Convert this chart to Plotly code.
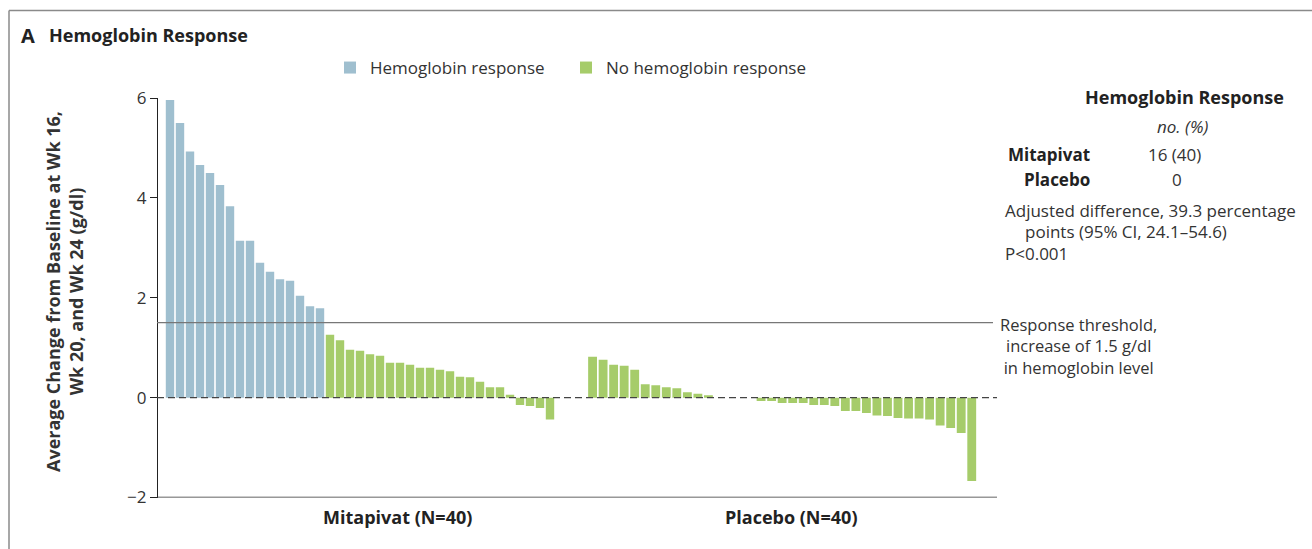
import plotly.graph_objects as go

W, H = 1312, 549

# ---- data ----
mitapivat_change = [5.96, 5.50, 4.93, 4.66, 4.50, 4.26, 3.83, 3.14, 3.14, 2.70,
                    2.52, 2.37, 2.34, 2.04, 1.83, 1.79,
                    1.26, 1.15, 0.96, 0.94, 0.87, 0.84, 0.70, 0.70, 0.66, 0.60,
                    0.60, 0.56, 0.53, 0.42, 0.41, 0.32, 0.21, 0.21, 0.06,
                    -0.15, -0.17, -0.21, -0.44]
placebo_change = [0.82, 0.76, 0.66, 0.64, 0.56, 0.27, 0.25, 0.21, 0.19, 0.11,
                  0.08, 0.05, 0.0, 0.0, 0.0, 0.0,
                  -0.07, -0.07, -0.11, -0.11, -0.11, -0.15, -0.15, -0.17, -0.27,
                  -0.27, -0.31, -0.36, -0.37, -0.41, -0.42, -0.42, -0.44, -0.56,
                  -0.61, -0.71, -1.67]
threshold = 1.5
y_ticks = [-2, 0, 2, 4, 6]
y_tick_labels = ["\u22122", "0", "2", "4", "6"]
group_labels = ["<b>Mitapivat (N=40)</b>", "<b>Placebo (N=40)</b>"]
legend_names = ["Hemoglobin response", "No hemoglobin response"]

BLUE = "#9fbfcf"
GREEN = "#a6cc6a"
FONT = "Open Sans"
REG = 17
BOLD = 18


def px(x):
    return x / W


def py(y):
    return 1 - y / H


mit_idx = list(range(len(mitapivat_change)))
pla_idx = list(range(len(placebo_change)))
resp_x = [i for i in mit_idx if mitapivat_change[i] >= threshold]
resp_y = [mitapivat_change[i] for i in resp_x]
nonresp_x = [i for i in mit_idx if mitapivat_change[i] < threshold]
nonresp_y = [mitapivat_change[i] for i in nonresp_x]

fig = go.Figure()
fig.add_trace(go.Bar(x=resp_x, y=resp_y, name=legend_names[0], marker_color=BLUE,
                     marker_line_width=0, xaxis="x", yaxis="y", legend="legend"))
fig.add_trace(go.Bar(x=nonresp_x, y=nonresp_y, name=legend_names[1], marker_color=GREEN,
                     marker_line_width=0, xaxis="x", yaxis="y", legend="legend2"))
fig.add_trace(go.Bar(x=pla_idx, y=placebo_change, name=legend_names[1], marker_color=GREEN,
                     marker_line_width=0, xaxis="x2", yaxis="y", showlegend=False))

y_dom = [py(497.5), py(98)]

legend_common = dict(orientation="h", y=py(68), xanchor="left", yanchor="middle",
                     font=dict(size=REG, color="#333"), itemwidth=30,
                     bgcolor="rgba(0,0,0,0)")

fig.update_layout(
    width=W, height=H,
    margin=dict(l=0, r=0, t=0, b=0, pad=0, autoexpand=False),
    paper_bgcolor="white", plot_bgcolor="white",
    font=dict(family=FONT, size=REG, color="#333"),
    bargap=0.16,
    barmode="overlay",
    showlegend=True,
    legend=dict(x=px(330), **legend_common),
    legend2=dict(x=px(566), **legend_common),
    xaxis=dict(domain=[px(165), px(555)], range=[-0.5, len(mitapivat_change) - 0.5],
               showticklabels=False, showgrid=False, zeroline=False, showline=False,
               ticks="", anchor="y"),
    xaxis2=dict(domain=[px(587.3), px(977)], range=[-0.5, len(placebo_change) - 0.5],
                showticklabels=False, showgrid=False, zeroline=False, showline=False,
                ticks="", anchor="y"),
    yaxis=dict(domain=y_dom, range=[-2, 6], tickvals=y_ticks, ticktext=y_tick_labels,
               anchor="free", position=px(157), showline=True, linecolor="#222",
               linewidth=1.3, ticks="outside", ticklen=7, tickcolor="#222", tickwidth=1.3,
               showgrid=False, zeroline=False, automargin=False,
               tickfont=dict(size=REG, color="#333")),
)

# reference lines
fig.add_shape(type="line", xref="paper", yref="y", x0=px(157), x1=px(997), y0=-2, y1=-2,
              line=dict(color="#333", width=1.3))
fig.add_shape(type="line", xref="paper", yref="y", x0=px(157), x1=px(993), y0=threshold,
              y1=threshold, line=dict(color="#777", width=1.2), layer="above")
fig.add_shape(type="line", xref="paper", yref="y", x0=px(157), x1=px(997), y0=0, y1=0,
              line=dict(color="#444", width=1.4, dash="7px,4px"), layer="above")

# frame
fig.add_shape(type="line", xref="paper", yref="paper", x0=px(9), x1=1, y0=py(10.5), y1=py(10.5),
              line=dict(color="#8a8a8a", width=1.5))
fig.add_shape(type="line", xref="paper", yref="paper", x0=px(9), x1=px(9), y0=0, y1=py(10.5),
              line=dict(color="#8a8a8a", width=1.5))


def ann(text, x, y, xanchor="center", size=REG, **kw):
    fig.add_annotation(text=text, x=px(x), y=py(y), xref="paper", yref="paper",
                       xanchor=xanchor, yanchor="middle", showarrow=False,
                       font=dict(family=FONT, size=size, color=kw.pop("color", "#333")), **kw)


# title
ann("<b>A</b>", 19, 35, xanchor="left", size=20, color="#222")
ann("<b>Hemoglobin Response</b>", 47, 35, xanchor="left", size=BOLD, color="#222")

# y-axis title
ann("<b>Average Change from Baseline at Wk 16,<br>Wk 20, and Wk 24 (g/dl)</b>", 64, 292,
    size=BOLD, textangle=-90, color="#333")

# group labels
ann(group_labels[0], 397, 517, size=BOLD, color="#222")
ann(group_labels[1], 791, 517, size=BOLD, color="#222")

# right-side summary
ann("<b>Hemoglobin Response</b>", 1184, 97, size=BOLD, color="#222")
ann("<i>no. (%)</i>", 1182, 127, size=REG)
ann("<b>Mitapivat</b>", 1092, 155, xanchor="right", size=17, color="#222")
ann("16 (40)", 1174, 155, size=REG)
ann("<b>Placebo</b>", 1092, 179, xanchor="right", size=17, color="#222")
ann("0", 1177, 179, size=REG)
ann("Adjusted difference, 39.3 percentage", 1003, 210, xanchor="left", size=REG)
ann("points (95% CI, 24.1\u201354.6)", 1023, 231, xanchor="left", size=REG)
ann("P<0.001", 1003, 253, xanchor="left", size=REG)

# threshold label
ann("Response threshold,<br>increase of 1.5 g/dl<br>in hemoglobin level", 1078, 346, size=16.5)

fig.write_html("out.html")
